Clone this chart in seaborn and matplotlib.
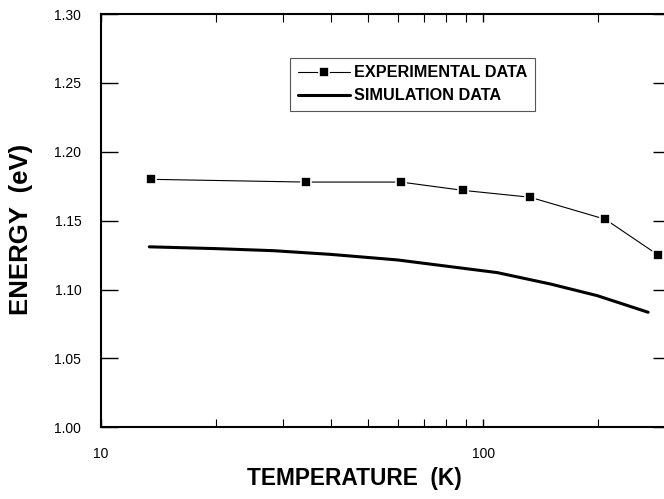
import matplotlib
matplotlib.use("Agg")
import matplotlib.pyplot as plt
import seaborn as sns
import pandas as pd
from matplotlib.ticker import FixedLocator, NullFormatter, LogLocator

# Data
exp_temperature = [13.5, 34.4, 61.0, 88.5, 132.6, 208.6, 287.0]
exp_energy = [1.180, 1.178, 1.178, 1.172, 1.167, 1.151, 1.125]

sim_temperature = [13.4, 20, 28.3, 40, 59.6, 80, 108.8, 150, 198.5, 270]
sim_energy = [1.131, 1.1297, 1.1282, 1.1255, 1.1215, 1.117, 1.1123, 1.104, 1.0956, 1.0835]

y_ticks = [1.00, 1.05, 1.10, 1.15, 1.20, 1.25, 1.30]
x_ticks = [10, 100]

exp_df = pd.DataFrame({"T": exp_temperature, "E": exp_energy})
sim_df = pd.DataFrame({"T": sim_temperature, "E": sim_energy})

sns.set_style("ticks")
plt.rcParams["font.family"] = ["Liberation Sans", "DejaVu Sans"]
plt.rcParams["axes.edgecolor"] = "black"
plt.rcParams["axes.labelcolor"] = "black"
plt.rcParams["text.color"] = "black"

fig = plt.figure(figsize=(6.64, 4.99), dpi=100)
ax = fig.add_axes([100.7 / 664, 1 - 427.3 / 499, (670 - 100.7) / 664, (427.3 - 14) / 499])

sns.lineplot(data=exp_df, x="T", y="E", ax=ax, color="black", linewidth=0.8,
             marker="s", markersize=7, markeredgecolor="white", markeredgewidth=1.2,
             markerfacecolor="black",
             label="EXPERIMENTAL DATA", estimator=None, sort=False)
sns.lineplot(data=sim_df, x="T", y="E", ax=ax, color="black", linewidth=2.2,
             label="SIMULATION DATA", estimator=None, sort=False)

ax.set_xscale("log")
ax.set_xlim(10, 308)
ax.set_ylim(1.00, 1.30)
ax.set_yticks(y_ticks)
ax.set_yticklabels([f"{v:.2f}" for v in y_ticks])
ax.xaxis.set_major_locator(FixedLocator(x_ticks))
ax.set_xticklabels([str(v) for v in x_ticks])
ax.xaxis.set_minor_locator(LogLocator(base=10, subs=range(2, 10)))
ax.xaxis.set_minor_formatter(NullFormatter())

for s in ax.spines.values():
    s.set_linewidth(1.5)
    s.set_color("black")
    s.set_visible(True)

ax.tick_params(axis="y", which="major", direction="in", length=12, width=1.0,
               left=True, right=True, labelsize=10, pad=14, colors="black")
ax.tick_params(axis="x", which="major", direction="in", length=6, width=1.0,
               top=True, bottom=True, labelsize=10, pad=14, colors="black")
ax.tick_params(axis="x", which="minor", direction="in", length=6, width=0.8,
               top=True, bottom=True, colors="black")
ax.tick_params(axis="y", which="minor", left=False, right=False)

ax.set_xlabel("TEMPERATURE  (K)", fontsize=16.3, fontweight="bold", color="black")
ax.set_ylabel("ENERGY  (eV)", fontsize=18.5, fontweight="bold", color="black")
ax.xaxis.set_label_coords(0.445, -0.123)
ax.yaxis.set_label_coords(-0.140, 0.478)
ax.xaxis.label.set_va("center")
ax.yaxis.label.set_va("center")

leg = ax.legend(loc="upper left", bbox_to_anchor=(0.333, 0.8935), borderaxespad=0,
                frameon=True, fancybox=False, edgecolor="#555555", framealpha=1,
                prop={"weight": "bold", "size": 11.7}, handlelength=3.2,
                handletextpad=0.3, borderpad=0.45, labelspacing=0.5)
leg.get_frame().set_linewidth(0.8)
for t in leg.get_texts():
    t.set_color("black")

fig.savefig("out.png", dpi=100)
